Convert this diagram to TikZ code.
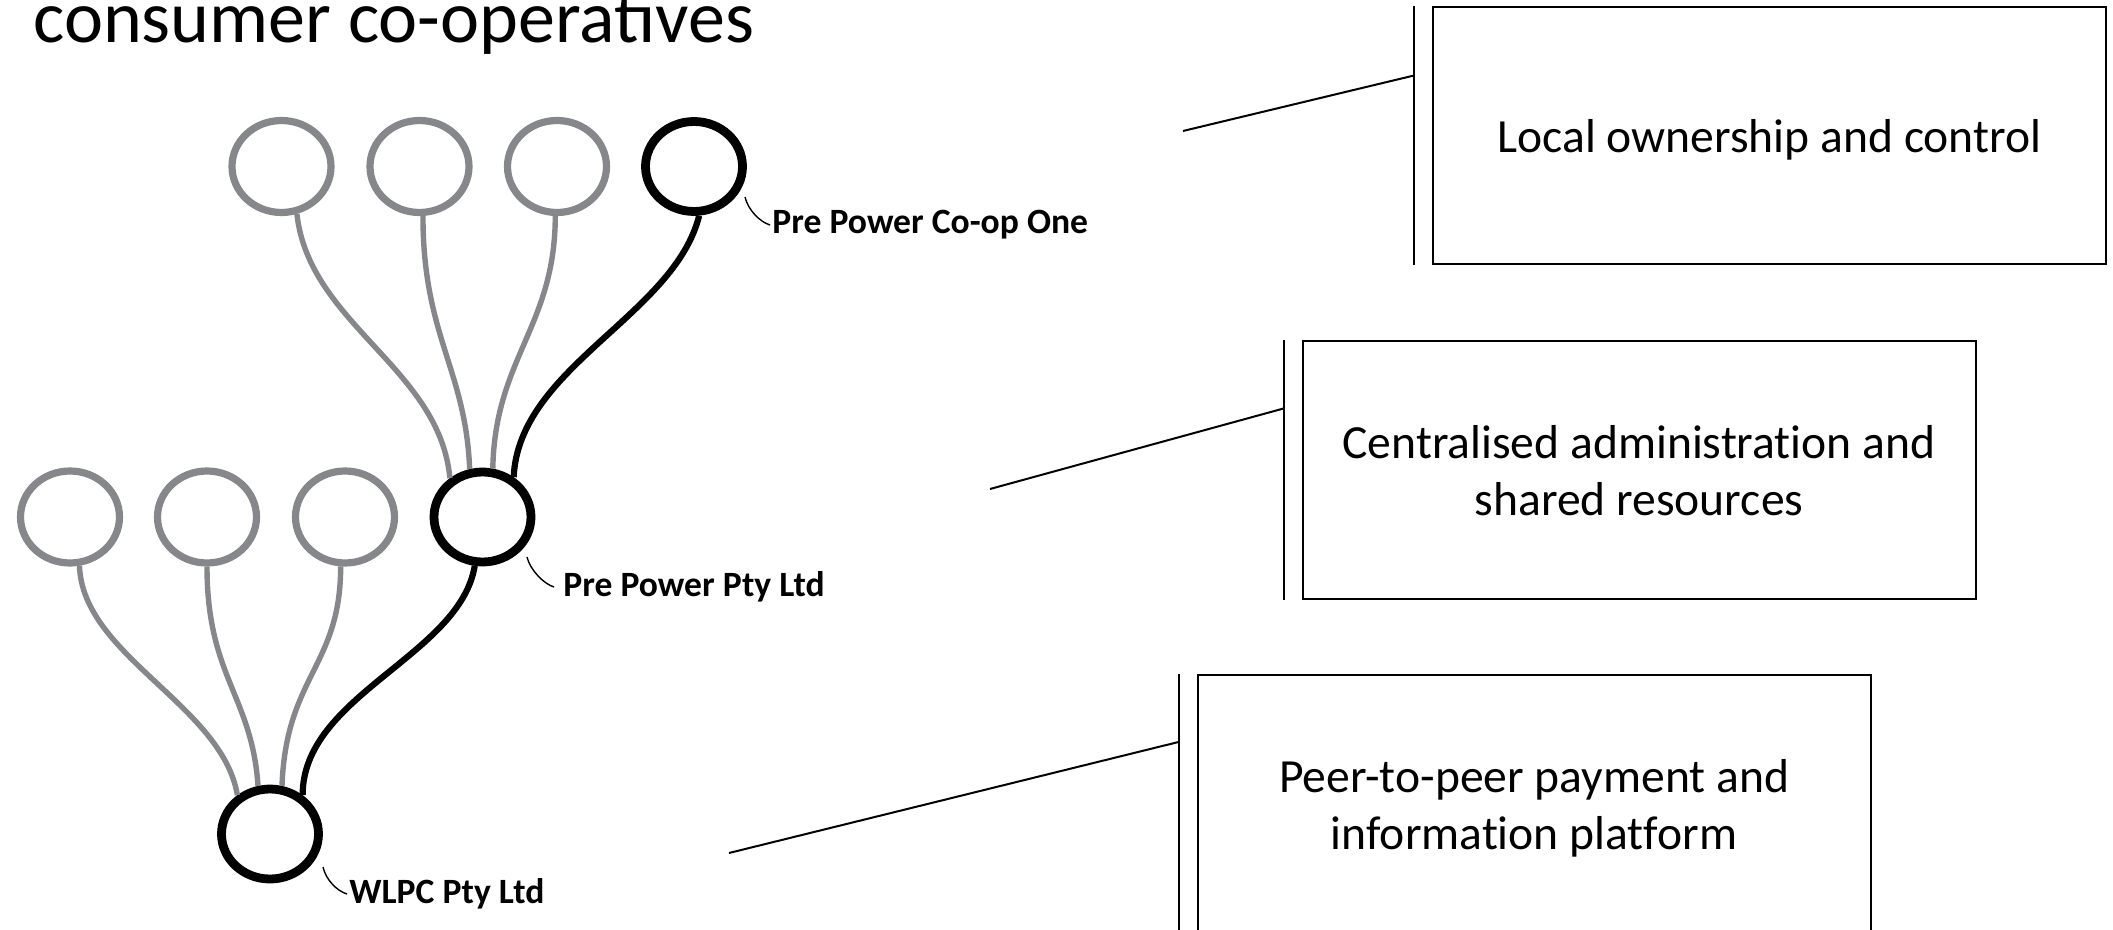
\documentclass[tikz,border=0pt]{standalone}
\usepackage{fontspec}
\setmainfont{Carlito}
\newfontfamily\plainlig{Carlito}[Ligatures=NoCommon]
\usetikzlibrary{shapes.geometric}
\definecolor{ringgray}{RGB}{134,135,138}
\tikzset{
  member/.style={ellipse, draw=ringgray, line width=3.6pt, fill=white,
    minimum width=49.5pt, minimum height=46pt, inner sep=0pt},
  entity/.style={ellipse, draw=black, line width=4.4pt, fill=white,
    minimum width=48.5pt, minimum height=45pt, inner sep=0pt},
  graylink/.style={draw=ringgray, line width=2.7pt},
  blacklink/.style={draw=black, line width=3.1pt},
  tag/.style={font=\bfseries\fontsize{17.8}{20}\selectfont, anchor=west, inner sep=0pt},
  leader/.style={draw=black, line width=0.7pt},
  callout/.style={rectangle, draw=black, line width=1pt, minimum width=336.5pt},
  boxtext/.style={align=center, inner sep=0pt, font=\plainlig\fontsize{23.8}{28.5}\selectfont},
  accent/.style={draw=black, line width=1pt},
  pointer/.style={draw=black, line width=1pt},
}
\begin{document}
\begin{tikzpicture}[x=0.5pt,y=-0.5pt]
\clip (0,0) rectangle (2113,930);

% heading
\node[anchor=base west, inner sep=0pt, font=\fontsize{37}{44}\selectfont] (title) at (33,43) {consumer co-operatives};

% local co-ops
\node[member] (t1) at (281.5,166.5) {};
\node[member] (t2) at (419.5,166.5) {};
\node[member] (t3) at (557,166.5) {};
\node[entity] (t4) at (694,166.5) {};

% second tier
\node[member] (s1) at (70,517) {};
\node[member] (s2) at (207,517) {};
\node[member] (s3) at (345,517) {};
\node[entity] (pp) at (482.5,517) {};

% platform
\node[entity] (wl) at (270,834) {};

% links from co-ops to Pre Power Pty Ltd
\draw[graylink] (t1.-72) .. controls +(12,110) and +(-10,-110) .. (pp.130);
\draw[graylink] (t2.-86) .. controls +(0,120) and +(-4,-100) .. (pp.105);
\draw[graylink] (t3.-92) .. controls +(0,110) and +(2,-110) .. (pp.78);
\draw[blacklink] (t4.-84) .. controls +(-25,100) and +(5,-110) .. (pp.52);

% links from second tier to WLPC
\draw[graylink] (s1.-79) .. controls +(3,90) and +(-15,-90) .. (wl.130);
\draw[graylink] (s2.-90) .. controls +(0,110) and +(-6,-90) .. (wl.104);
\draw[graylink] (s3.-95) .. controls +(0,100) and +(4,-110) .. (wl.76);
\draw[blacklink] (pp.-99) .. controls +(-15,90) and +(0,-100) .. (wl.50);

% labels with leaders
\node[tag] (lb1) at (772,225) {Pre Power Co-op One};
\node[tag] (lb2) at (563,587) {Pre Power Pty Ltd};
\node[tag] (lb3) at (349,894) {WLPC Pty Ltd};
\coordinate (ld1) at (745,197);
\coordinate (ld2) at (527,557);
\coordinate (ld3) at (323,867);
\draw[leader] (ld1) .. controls +(3,13) and +(-10,-3) .. ([xshift=-1pt]lb1.west);
\draw[leader] (ld2) .. controls +(3,13) and +(-10,-3) .. ([xshift=-4.5pt]lb2.west);
\draw[leader] (ld3) .. controls +(3,13) and +(-10,-3) .. ([xshift=-1pt]lb3.west);

% callout boxes
\node[callout, minimum height=128.5pt] (b1) at (1769.5,136) {};
\node[callout, minimum height=128.5pt] (b2) at (1639,470) {};
\node[callout, minimum height=133.5pt] (b3) at (1534,808.5) {};
\node[boxtext] (b1t) at ([yshift=-2pt]b1.center) {Local ownership and control};
\node[boxtext] (b2t) at ([yshift=-0.5pt]b2.center) {Centralised administration and\\shared resources};
\node[boxtext] (b3t) at ([yshift=0pt]b3.center) {Peer-to-peer payment and\\information platform};

\draw[accent] ([xshift=-9pt]b1.north west) -- ([xshift=-9pt]b1.south west);
\draw[accent] ([xshift=-9pt]b2.north west) -- ([xshift=-9pt]b2.south west);
\draw[accent] ([xshift=-9pt]b3.north west) -- ([xshift=-9pt]b3.south west);

\coordinate (p1) at (1183,131);
\coordinate (p2) at (990,489);
\coordinate (p3) at (729,853);
\draw[pointer] (p1) -- ([xshift=-9pt,yshift=-34.5pt]b1.north west);
\draw[pointer] (p2) -- ([xshift=-9pt,yshift=-34pt]b2.north west);
\draw[pointer] (p3) -- ([xshift=-9pt,yshift=-34pt]b3.north west);
\end{tikzpicture}
\end{document}
